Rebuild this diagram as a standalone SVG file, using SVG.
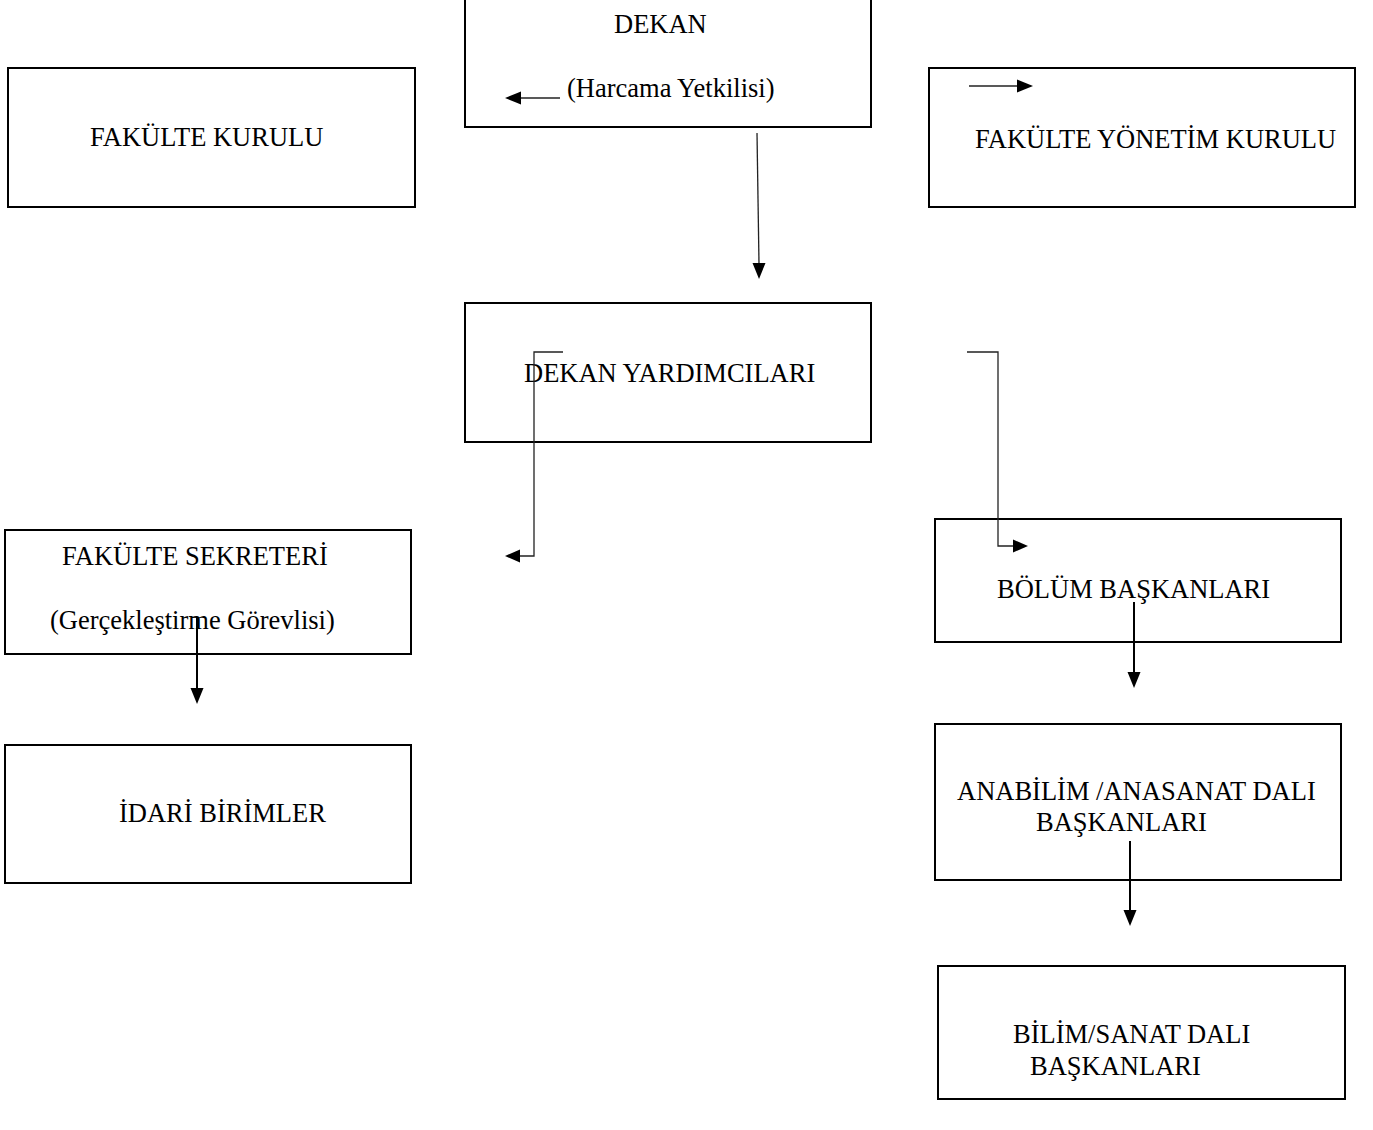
<svg xmlns="http://www.w3.org/2000/svg" width="1373" height="1130" viewBox="0 0 1373 1130">
<style>
.box{fill:#fff;stroke:#000;stroke-width:2}
.t{font-family:"Liberation Serif","Times New Roman",serif;font-size:26.5px;fill:#000}
.thin{fill:none;stroke:#222;stroke-width:1.3}
.thick{fill:none;stroke:#000;stroke-width:2}
.head{fill:#000}
</style>
<rect width="1373" height="1130" fill="#fff"/>
<g id="dekan"><rect class="box" x="465" y="-5" width="406" height="132"/><text class="t" x="614" y="33">DEKAN</text><text class="t" x="567" y="97">(Harcama Yetkilisi)</text></g>
<g id="fakulte-kurulu"><rect class="box" x="8" y="68" width="407" height="139"/><text class="t" x="90" y="146">FAKÜLTE KURULU</text></g>
<g id="fakulte-yonetim-kurulu"><rect class="box" x="929" y="68" width="426" height="139"/><text class="t" x="975" y="148">FAKÜLTE YÖNETİM KURULU</text></g>
<g id="dekan-yardimcilari"><rect class="box" x="465" y="303" width="406" height="139"/><text class="t" x="524" y="382">DEKAN YARDIMCILARI</text></g>
<g id="fakulte-sekreteri"><rect class="box" x="5" y="530" width="406" height="124"/><text class="t" x="62" y="565">FAKÜLTE SEKRETERİ</text><text class="t" x="50" y="629">(Gerçekleştirme Görevlisi)</text></g>
<g id="idari-birimler"><rect class="box" x="5" y="745" width="406" height="138"/><text class="t" x="119" y="822">İDARİ BİRİMLER</text></g>
<g id="bolum-baskanlari"><rect class="box" x="935" y="519" width="406" height="123"/><text class="t" x="997" y="598">BÖLÜM BAŞKANLARI</text></g>
<g id="anabilim"><rect class="box" x="935" y="724" width="406" height="156"/><text class="t" x="957" y="800">ANABİLİM /ANASANAT DALI</text><text class="t" x="1036" y="831">BAŞKANLARI</text></g>
<g id="bilim-sanat"><rect class="box" x="938" y="966" width="407" height="133"/><text class="t" x="1013" y="1043">BİLİM/SANAT DALI</text><text class="t" x="1030" y="1075">BAŞKANLARI</text></g>
<g id="connectors">
<line class="thin" x1="560" y1="98" x2="520" y2="98"/><polygon class="head" points="505,98 521,91.5 521,104.5"/>
<line class="thin" x1="969" y1="86" x2="1018" y2="86"/><polygon class="head" points="1033,86 1017,79.5 1017,92.5"/>
<line class="thin" x1="757" y1="133" x2="759" y2="264"/><polygon class="head" points="759,279 752.5,263 765.5,263"/>
<polyline class="thin" points="563,352 534,352 534,556 520,556"/><polygon class="head" points="505,556 520,549.5 520,562.5"/>
<polyline class="thin" points="967,352 998,352 998,546 1013,546"/><polygon class="head" points="1028,546 1013,539.5 1013,552.5"/>
<line class="thick" x1="197" y1="617" x2="197" y2="689"/><polygon class="head" points="197,704 190.5,688 203.5,688"/>
<line class="thick" x1="1134" y1="602" x2="1134" y2="673"/><polygon class="head" points="1134,688 1127.5,672 1140.5,672"/>
<line class="thick" x1="1130" y1="841" x2="1130" y2="911"/><polygon class="head" points="1130,926 1123.5,910 1136.5,910"/>
</g>
</svg>
